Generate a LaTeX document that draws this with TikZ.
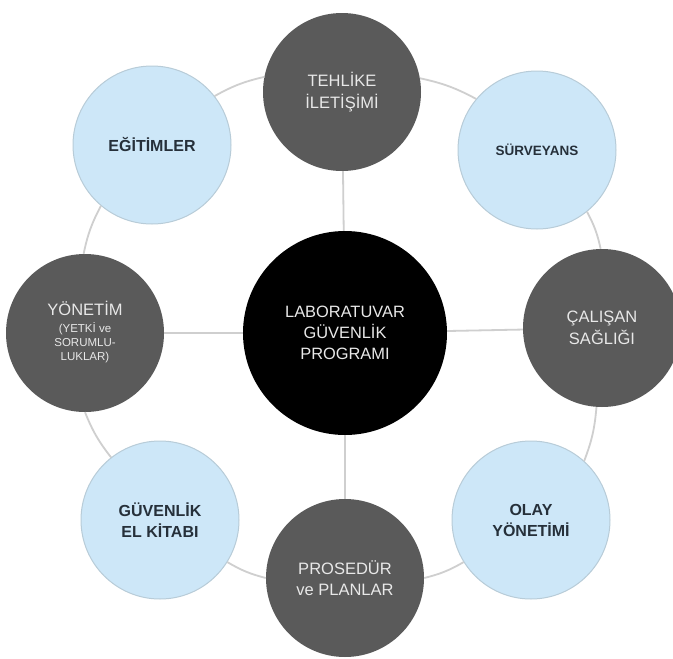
\documentclass[tikz,border=0pt]{standalone}
\usepackage{fontspec}
\setmainfont{Liberation Sans}
\definecolor{darkc}{HTML}{5A5A5A}
\definecolor{lightc}{HTML}{CDE7F8}
\definecolor{lightedge}{HTML}{B8CCD8}
\definecolor{ringc}{HTML}{CFCFCF}
\definecolor{darktext}{HTML}{26303A}
\definecolor{lighttext}{HTML}{E8E8E8}
\begin{document}
\begin{tikzpicture}[x=1pt,y=-1pt,
  outer/.style={circle, minimum size=158pt, inner sep=0pt, align=center},
  darkbub/.style={outer, fill=darkc, text=lighttext, font=\fontsize{16.5}{21.5}\selectfont},
  lightbub/.style={outer, fill=lightc, draw=lightedge, line width=1pt, text=darktext,
    font=\fontsize{16}{21}\selectfont\bfseries},
  hubbub/.style={circle, minimum size=204pt, inner sep=0pt, fill=black, text=lighttext,
    align=center, font=\fontsize{16.4}{21}\selectfont},
  link/.style={draw=ringc, line width=1.8pt},
]
\useasboundingbox[fill=white] (0,0) rectangle (673,659);

\node[hubbub] (hub) at (345,333) {LABORATUVAR\\GÜVENLİK\\PROGRAMI};

\node[darkbub] (tehl) at (342,92) {TEHLİKE\\İLETİŞİMİ};
\node[lightbub] (egit) at (152,145) {EĞİTİMLER};
\node[lightbub, font=\fontsize{13.5}{18}\selectfont\bfseries] (surv) at (537,150) {SÜRVEYANS};
\node[darkbub] (yon) at (85,333) {YÖNETİM\\[-4.5pt]
  {\fontsize{11.5}{14}\selectfont\renewcommand\arraystretch{1}%
   \begin{tabular}[t]{@{}c@{}}(YETKİ ve\\SORUMLU-\\LUKLAR)\end{tabular}}};
\node[darkbub] (calis) at (602,328) {ÇALIŞAN\\SAĞLIĞI};
\node[lightbub] (guv) at (160,520) {GÜVENLİK\\EL KİTABI};
\node[lightbub] (olay) at (531,520) {OLAY\\YÖNETİMİ};
\node[darkbub] (pros) at (345,578) {PROSEDÜR\\ve PLANLAR};

% spokes
\draw[link] (hub) -- (tehl);
\draw[link] (hub) -- (calis);
\draw[link] (hub) -- (pros);
\draw[link] (hub) -- (yon);

% ring
\draw[link] (egit.38) to[bend left=8] (tehl.169);
\draw[link] (tehl.10) to[bend left=8] (surv.140);
\draw[link] (surv.-51) to[bend left=8] (calis.91);
\draw[link] (calis.-94) to[bend left=8] (olay.48);
\draw[link] (olay.212) to[bend left=8] (pros.0);
\draw[link] (pros.180) to[bend left=8] (guv.-32);
\draw[link] (guv.128) to[bend left=8] (yon.-90);
\draw[link] (yon.91) to[bend left=8] (egit.230);
\end{tikzpicture}
\end{document}
